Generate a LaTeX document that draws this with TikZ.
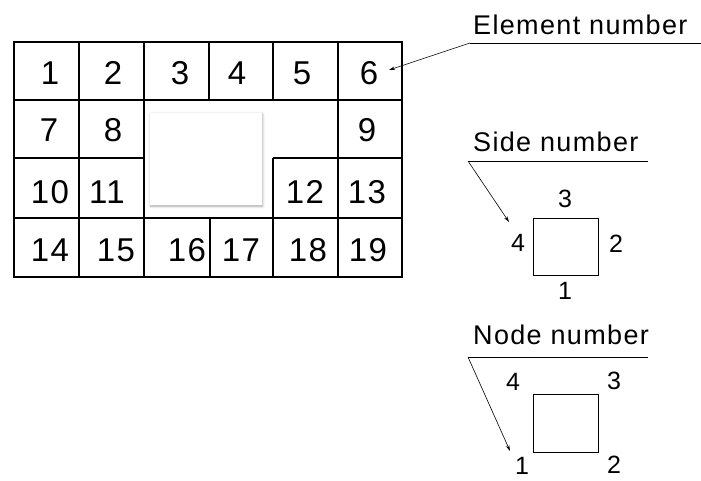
\documentclass[tikz,border=0pt]{standalone}
\usepackage{fontspec}
\setmainfont{Liberation Sans}
\usetikzlibrary{arrows.meta,shadows.blur}
\begin{document}
\begin{tikzpicture}[x=1pt,y=-1pt,
  num/.style={inner sep=0pt,font=\fontsize{33}{33}\addfontfeatures{LetterSpace=4}\selectfont},
  lbl/.style={inner sep=0pt,anchor=west,font=\fontsize{27}{27}\addfontfeatures{LetterSpace=5}\selectfont},
  small/.style={inner sep=0pt,font=\fontsize{25}{25}\selectfont},
  outer/.style={line width=2pt},
  inner/.style={line width=1.5pt},
  leader/.style={line width=0.6pt,-{Stealth[length=6pt,width=3.5pt]}},
  uline/.style={line width=0.8pt},
  cellsq/.style={line width=1pt}]
\useasboundingbox (0,0) rectangle (701,480);

% ---- element mesh ----
\draw[outer] (14,42) rectangle (402,277);
% horizontal lines
\draw[inner] (14,100) -- (402,100);
\draw[inner] (14,158) -- (144,158);
\draw[inner] (273,158) -- (402,158);
\draw[inner] (14,218) -- (402,218);
% vertical lines
\draw[inner] (79,42) -- (79,277);
\draw[inner] (144,42) -- (144,277);
\draw[inner] (209,42) -- (209,100);
\draw[inner] (210,218) -- (210,277);
\draw[inner] (273,42) -- (273,100);
\draw[inner] (273,158) -- (273,277);
\draw[inner] (338,42) -- (338,277);

% hole in the mesh
\fill[white,blur shadow={shadow xshift=0.6pt,shadow yshift=-1.2pt,shadow blur radius=2.5pt,shadow opacity=35}]
  (150,113) rectangle (262,205);

% element numbers
\node[num] (e1)  at (50,73)  {1};
\node[num] (e2)  at (113,73) {2};
\node[num] (e3)  at (180,73) {3};
\node[num] (e4)  at (237,73) {4};
\node[num] (e5)  at (302,73) {5};
\node[num] (e6)  at (369,73) {6};
\node[num] (e7)  at (49,130) {7};
\node[num] (e8)  at (113,130) {8};
\node[num] (e9)  at (367,130) {9};
\node[num] (e10) at (50,192) {10};
\node[num] (e11) at (107,192) {11};
\node[num] (e12) at (305,192) {12};
\node[num] (e13) at (367,192) {13};
\node[num] (e14) at (50,250) {14};
\node[num] (e15) at (116,250) {15};
\node[num] (e16) at (187,250) {16};
\node[num] (e17) at (241,250) {17};
\node[num] (e18) at (308,250) {18};
\node[num] (e19) at (368,250) {19};

% ---- element number callout ----
\node[lbl] (elab) at (473,25) {Element number};
\coordinate (eu1) at (470,43);
\coordinate (eu2) at (701,43);
\coordinate (etip) at (389,70);
\draw[uline] (eu1) -- (eu2);
\draw[leader] (eu1) -- (etip);

% ---- side numbering ----
\node[lbl] (slab) at (473,142) {Side number};
\coordinate (su1) at (468,161);
\coordinate (su2) at (648,161);
\coordinate (stip) at (509,222);
\draw[uline] (su1) -- (su2);
\draw[leader] (su1) -- (stip);
\draw[cellsq] (533,218) rectangle (598,275);
\node[small] (s3) at (565,199) {3};
\node[small] (s4) at (518,243) {4};
\node[small] (s2) at (616,244) {2};
\node[small] (s1) at (565,291) {1};

% ---- node numbering ----
\node[lbl] (nlab) at (473,335) {Node number};
\coordinate (nu1) at (468,357);
\coordinate (nu2) at (648,357);
\coordinate (ntip) at (510,451);
\draw[uline] (nu1) -- (nu2);
\draw[leader] (nu1) -- (ntip);
\draw[cellsq] (533,394) rectangle (598,452);
\node[small] (n4) at (513,382) {4};
\node[small] (n3) at (614,381) {3};
\node[small] (n1) at (522,466) {1};
\node[small] (n2) at (614,465) {2};
\end{tikzpicture}
\end{document}
